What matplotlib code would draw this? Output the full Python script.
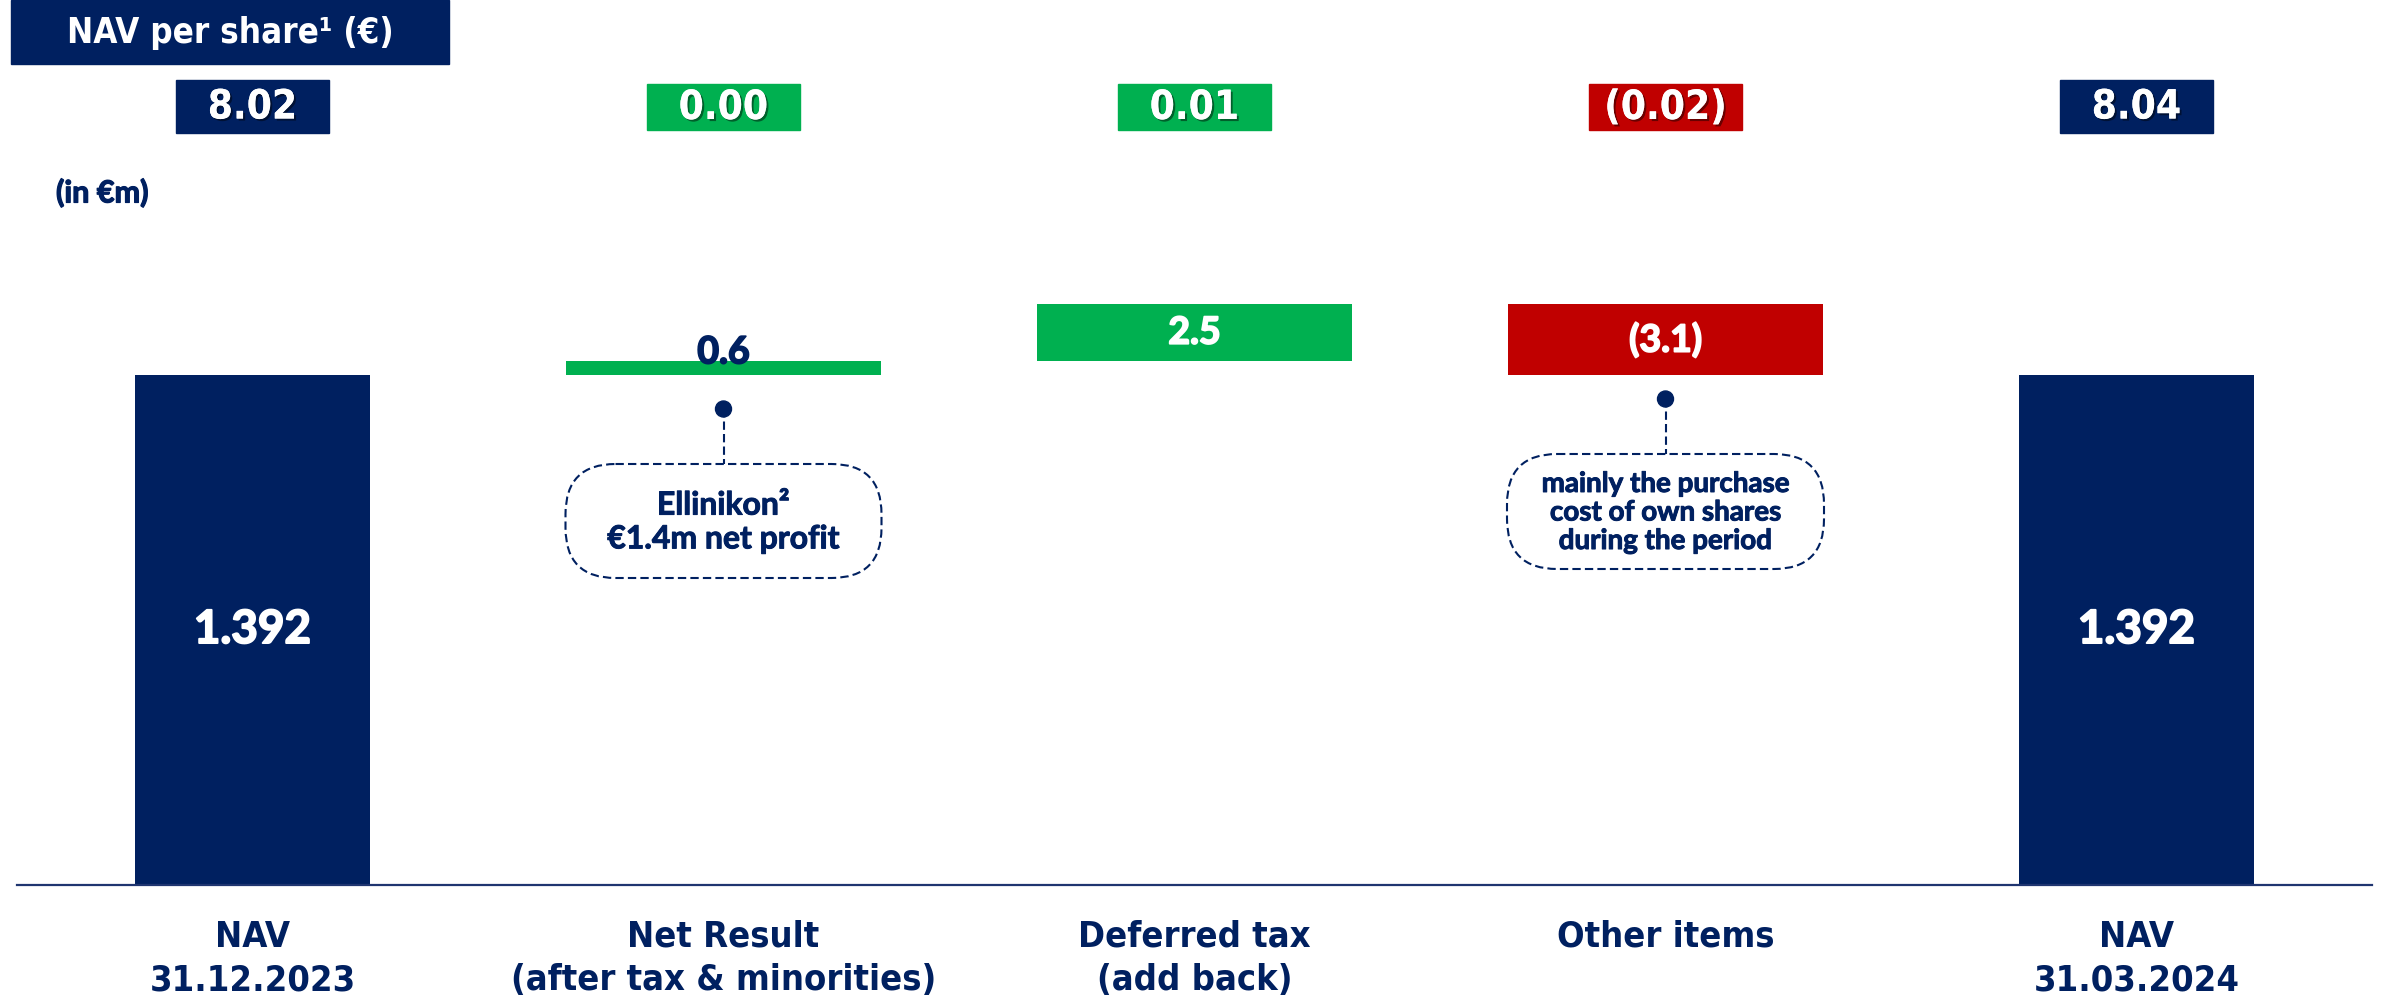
import matplotlib
matplotlib.use("Agg")
import matplotlib.pyplot as plt
import matplotlib.patheffects as pe
from matplotlib import font_manager
from matplotlib.font_manager import FontProperties
from matplotlib.patches import Rectangle, FancyBboxPatch, Circle
from matplotlib.transforms import blended_transform_factory

# ---- data ----
categories = ["NAV\n31.12.2023", "Net Result\n(after tax & minorities)",
              "Deferred tax\n(add back)", "Other items", "NAV\n31.03.2024"]
nav_start = 1392.0
nav_end = 1392.0
changes = [0.6, 2.5, -3.1]
bar_labels = ["1.392", "0.6", "2.5", "(3.1)", "1.392"]
per_share = [8.02, 0.00, 0.01, -0.02, 8.04]
per_share_labels = ["8.02", "0.00", "0.01", "(0.02)", "8.04"]
note_texts = {1: "Ellinikon²\n€1.4m net profit",
              3: "mainly the purchase\ncost of own shares\nduring the period"}

NAVY = "#002060"
GREEN = "#00B050"
RED = "#C00000"


def find_font(candidates):
    # candidates: list of (family, condensed?) ; returns a bold font file
    fl = font_manager.fontManager.ttflist
    for fam, cond in candidates:
        for f in fl:
            if f.name != fam or f.style != "normal":
                continue
            w = f.weight if isinstance(f.weight, int) else 700 if f.weight == "bold" else 400
            if w != 700:
                continue
            is_cond = "condensed" in str(f.stretch) or "Condensed" in f.fname or "Narrow" in f.fname
            if is_cond == cond:
                return f.fname
    return None


narrow_file = find_font([("Liberation Sans Narrow", True), ("Liberation Sans Narrow", False),
                         ("DejaVu Sans", True), ("Roboto", False), ("DejaVu Sans", False)])
main_file = find_font([("Lato", False), ("Open Sans", False), ("Roboto", False),
                       ("Noto Sans", False), ("DejaVu Sans", False)])


def fp(fname, size):
    if fname:
        return FontProperties(fname=fname, size=size)
    return FontProperties(size=size, weight="bold")


def heavy(col, lw=1.1):
    return [pe.withStroke(linewidth=lw, foreground=col)]


narrow_is_real = narrow_file and ("Narrow" in narrow_file or "Condensed" in narrow_file)
nscale = 1.0 if narrow_is_real else 0.86

W, H = 2381, 999
fig = plt.figure(figsize=(W / 100, H / 100), dpi=100)
ax = fig.add_axes([17 / W, (H - 885) / H, 2355 / W, 735 / H])
ov = fig.add_axes([0, 0, 1, 1])
ov.set_xlim(0, W)
ov.set_ylim(H, 0)
ov.axis("off")

# truncated value axis, as in the source slide
y_floor = 1369.73
ax.set_ylim(y_floor, 1401.83)
ax.set_xlim(-0.5, 4.5)

# waterfall geometry
bottoms, heights, colors, widths = [], [], [], []
bottoms.append(y_floor); heights.append(nav_start - y_floor); colors.append(NAVY); widths.append(0.5)
cum = nav_start
for c in changes:
    bottoms.append(min(cum, cum + c))
    heights.append(abs(c))
    colors.append(GREEN if c >= 0 else RED)
    widths.append(0.67)
    cum += c
bottoms.append(y_floor); heights.append(nav_end - y_floor); colors.append(NAVY); widths.append(0.5)

x = list(range(len(categories)))
ax.bar(x, heights, bottom=bottoms, width=widths, color=colors, zorder=2)

for i in x:
    mid = bottoms[i] + heights[i] / 2
    if i in (0, len(x) - 1):
        ax.text(i, mid, bar_labels[i], ha="center", va="center", color="white",
                fontproperties=fp(main_file, 33), zorder=3, path_effects=heavy("white", 1.4))
    elif heights[i] < 1:
        ax.annotate(bar_labels[i], (i, bottoms[i] + heights[i]), xytext=(0, 9),
                    textcoords="offset pixels", ha="center", va="center", color=NAVY,
                    fontproperties=fp(main_file, 27), zorder=3, path_effects=heavy(NAVY, 1.3))
    else:
        ax.text(i, mid, bar_labels[i], ha="center", va="center", color="white",
                fontproperties=fp(main_file, 27), zorder=3, path_effects=heavy("white", 1.3))

for s in ["top", "left", "right"]:
    ax.spines[s].set_visible(False)
ax.spines["bottom"].set_color("#1F3570")
ax.spines["bottom"].set_linewidth(1.6)
ax.set_yticks([])
ax.set_xticks(x)
ax.set_xticklabels(categories, color=NAVY, fontproperties=fp(narrow_file, 26 * nscale),
                   linespacing=1.35)
ax.tick_params(axis="x", length=0, pad=25)

# header
ov.add_patch(Rectangle((11, 0), 438, 64, color=NAVY))
ov.text(230, 33, "NAV per share¹ (€)", ha="center", va="center", color="white",
        fontproperties=fp(narrow_file, 25 * nscale))
ov.text(56, 193, "(in €m)", ha="left", va="center", color=NAVY,
        fontproperties=fp(main_file, 22), path_effects=heavy(NAVY, 0.9))

# NAV per share boxes
tr = blended_transform_factory(ax.transData, ov.transData)
shadow = [pe.withSimplePatchShadow(offset=(1.5, -1.5), shadow_rgbFace="black", alpha=0.45), pe.Normal()]
for i, (v, lab) in enumerate(zip(per_share, per_share_labels)):
    if i in (0, len(x) - 1):
        col, y0, h, w = NAVY, 80, 53, 0.325
    else:
        col, y0, h, w = (GREEN if v >= 0 else RED), 84, 46, 0.323
    ov.add_patch(Rectangle((i - w / 2, y0), w, h, color=col, transform=tr, clip_on=False))
    ov.text(i, y0 + h / 2 + 1, lab, transform=tr, ha="center", va="center", color="white",
            fontproperties=fp(narrow_file, 29 * nscale), path_effects=shadow)

# callouts
note_layout = {1: dict(dot=409, top=464, h=114, w=316, fs=23, ls=1.2),
               3: dict(dot=399, top=454, h=115, w=317, fs=20, ls=1.12)}
for i, txt in note_texts.items():
    lay = note_layout[i]
    cx = ov.transData.inverted().transform(ax.transData.transform((i, y_floor)))[0]
    ov.plot([cx, cx], [lay["dot"], lay["top"]], color=NAVY, lw=1.5, ls=(0, (4, 2)))
    ov.add_patch(Circle((cx, lay["dot"]), 8, color=NAVY))
    ov.add_patch(FancyBboxPatch((cx - lay["w"] / 2, lay["top"]), lay["w"], lay["h"],
                                boxstyle="round,pad=0,rounding_size=50",
                                fill=False, edgecolor=NAVY, lw=1.5, ls=(0, (4, 2))))
    ov.text(cx, lay["top"] + lay["h"] / 2 + 1, txt, ha="center", va="center", color=NAVY,
            fontproperties=fp(main_file, lay["fs"]), linespacing=lay["ls"],
            path_effects=heavy(NAVY, 0.7))

fig.savefig("out.png", dpi=100)
